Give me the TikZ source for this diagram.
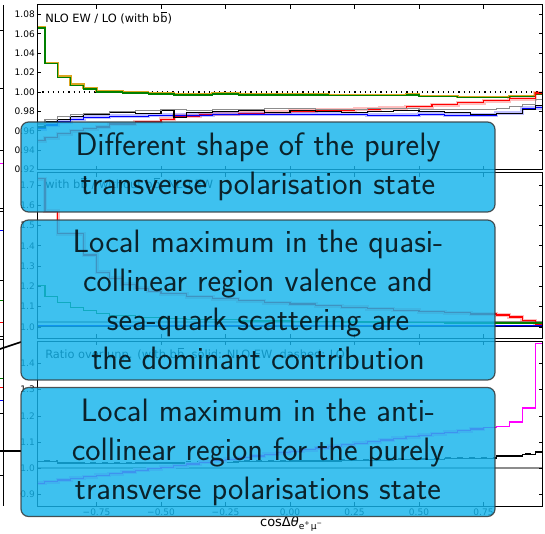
\documentclass[tikz,border=0pt]{standalone}
\usepackage{fontspec}
\newfontfamily\plotfont{DejaVu Sans}
\definecolor{boxblue}{RGB}{20,180,236}
\definecolor{ewgreen}{RGB}{0,128,0}
\definecolor{ewgold}{RGB}{218,165,32}
\definecolor{ewgray}{RGB}{140,140,140}
\definecolor{ewmagenta}{RGB}{255,0,255}
\newcommand{\bbar}{b\kern0.03em\rlap{\kern0.05em\raisebox{0.84em}{\rule{0.52em}{0.07em}}}b}

\tikzset{
  note/.style={draw=black!80, line width=0.6pt, fill=boxblue, opacity=0.82,
    rounded corners=3.75pt, minimum width=237pt, inner sep=0pt, align=center,
    font=\sffamily\fontsize{16.2}{19.5}\selectfont},
  hist/.style={const plot, line width=0.6pt},
  ticklabel/.style={font=\plotfont\fontsize{4.5}{5}\selectfont, inner sep=1pt},
  plotlabel/.style={font=\plotfont\fontsize{5.7}{7}\selectfont, inner sep=0pt},
}

\begin{document}
\begin{tikzpicture}[x=0.5pt,y=-0.5pt]
  \useasboundingbox[fill=white] (0,0) rectangle (545,534);

  % neighbour plot, only its right edge is in view
  \draw[line width=0.5pt] (3,5) -- (3,506);
  \foreach \y in {30,88,150,208,211,280,336,339,413,475}
    \draw[line width=0.4pt] (0,\y) -- (3,\y);
  \draw[ewmagenta] (0,163) -- (3,163);
  \draw[blue] (0,230) -- (3,230) (0,400) -- (3,400);
  \draw[ewgreen] (0,300) -- (3,300) (0,378) -- (3,378);
  \draw[red] (0,322) -- (3,322) (0,387) -- (3,387);
  \draw[line width=0.8pt] (0,349) -- (21,342);
  \draw[line width=0.8pt] (0,451) -- (21,451);

  % upper panel: NLO EW / LO
  \begin{scope}[shift={(290,1062)},x=129pt,y=485pt]
    \begin{scope}
      \clip (-0.98,0.92) rectangle (0.98,1.09);
      \draw[dotted, line width=0.6pt] (-0.98,1) -- (0.98,1);
      \foreach \c/\w/\s in {ewgold/1.3pt/0.5pt, ewgreen/0.6pt/0pt}
        \draw[const plot, \c, line width=\w, yshift=\s] plot coordinates {
          (-1,1.066) (-0.95,1.029) (-0.9,1.015) (-0.85,1.007) (-0.8,1.003)
          (-0.75,1.000) (-0.65,0.999) (-0.55,0.998) (-0.45,0.997) (-0.3,0.998)
          (-0.2,0.997) (0,0.997) (0.15,0.996) (0.35,0.996) (0.45,0.997)
          (0.5,0.995) (0.65,0.994) (0.85,0.995) (0.95,0.998) (1,0.998)};
      \foreach \w/\o in {2pt/0.25, 0.6pt/1}
        \draw[const plot, red, line width=\w, opacity=\o] plot coordinates {
          (-1,0.950) (-0.95,0.953) (-0.9,0.957) (-0.85,0.960) (-0.8,0.962)
          (-0.75,0.964) (-0.7,0.967) (-0.6,0.969) (-0.5,0.972) (-0.45,0.975)
          (-0.35,0.977) (-0.2,0.978) (-0.1,0.979) (0,0.980) (0.1,0.981)
          (0.25,0.982) (0.35,0.983) (0.45,0.985) (0.55,0.987) (0.65,0.989)
          (0.75,0.991) (0.85,0.993) (0.95,0.999) (1,0.999)};
      \foreach \w/\o in {2pt/0.25, 0.6pt/1}
        \draw[const plot, blue, line width=\w, opacity=\o] plot coordinates {
          (-1,0.962) (-0.95,0.966) (-0.9,0.969) (-0.85,0.972) (-0.8,0.974)
          (-0.7,0.975) (-0.55,0.976) (-0.3,0.977) (0.1,0.977) (0.3,0.976)
          (0.5,0.977) (0.6,0.976) (0.8,0.978) (0.9,0.983) (0.95,0.984)
          (1,0.984)};
      \draw[hist, black] plot coordinates {
        (-1,0.964) (-0.95,0.969) (-0.9,0.972) (-0.85,0.975) (-0.8,0.977)
        (-0.7,0.979) (-0.6,0.978) (-0.5,0.981) (-0.45,0.974) (-0.4,0.979)
        (-0.3,0.980) (-0.2,0.981) (-0.1,0.979) (0,0.981) (0.1,0.980)
        (0.2,0.979) (0.3,0.980) (0.4,0.981) (0.5,0.980) (0.6,0.979)
        (0.7,0.977) (0.8,0.978) (0.9,0.982) (0.95,0.986) (1,0.986)};
      \draw[hist, ewgray] plot coordinates {
        (-1,0.967) (-0.95,0.972) (-0.9,0.975) (-0.85,0.977) (-0.8,0.978)
        (-0.7,0.980) (-0.6,0.981) (-0.5,0.982) (-0.4,0.981) (-0.3,0.982)
        (-0.1,0.983) (0.1,0.982) (0.3,0.983) (0.5,0.982) (0.8,0.983)
        (0.85,0.985) (0.9,0.987) (0.95,0.992) (1,0.992)};
    \end{scope}
    \draw[line width=0.5pt] (-0.98,0.92) rectangle (0.98,1.09);
    \foreach \t in {-0.75,-0.5,...,0.75}
      \draw[line width=0.4pt] (\t,0.92) -- ++(0pt,2pt) (\t,1.09) -- ++(0pt,-2pt);
    \foreach \r [count=\i] in {0.92,0.94,0.96,0.98,1.00,1.02,1.04,1.06,1.08} {
      \draw[line width=0.4pt] (-0.98,\r) -- ++(2pt,0pt) (0.98,\r) -- ++(-2pt,0pt);
      \node[ticklabel, anchor=east] (upper-\i) at (-0.98,\r) {\r};
    }
    \node[plotlabel, anchor=north west] (ewlabel) at (-0.95,1.083) {NLO EW / LO (with \bbar)};
  \end{scope}

  % middle panel
  \begin{scope}[shift={(290,530)},x=129pt,y=101.5pt]
    \begin{scope}
      \clip (-0.98,0.945) rectangle (0.98,1.76);
      \draw[hist, ewgray] (-1,1.025) -- (1,1.025);
      \foreach \w/\o in {2pt/0.25, 0.6pt/1}
        \draw[const plot, red, line width=\w, opacity=\o] plot coordinates {
          (-1,1.73) (-0.95,1.57) (-0.9,1.46) (-0.8,1.355) (-0.75,1.27)
          (-0.7,1.24) (-0.65,1.21) (-0.6,1.19) (-0.55,1.175) (-0.5,1.165)
          (-0.4,1.15) (-0.3,1.14) (-0.2,1.13) (-0.1,1.12) (0,1.113)
          (0.1,1.105) (0.2,1.097) (0.3,1.09) (0.4,1.083) (0.5,1.076)
          (0.6,1.07) (0.7,1.064) (0.8,1.059) (0.85,1.049) (0.9,1.031)
          (0.95,1.015) (1,1.015)};
      \draw[hist, ewgreen] plot coordinates {
        (-1,1.205) (-0.95,1.15) (-0.9,1.12) (-0.85,1.095) (-0.8,1.08)
        (-0.75,1.065) (-0.7,1.055) (-0.6,1.045) (-0.5,1.04) (-0.4,1.035)
        (-0.2,1.03) (0,1.027) (0.2,1.025) (0.4,1.022) (0.6,1.02) (1,1.018)};
      \draw[const plot, blue, line width=1.2pt] (-1,1.004) -- (1,1.004);
      \draw[hist, black!70!blue] (-1,1.001) -- (1,1.001);
    \end{scope}
    \draw[line width=0.5pt] (-0.98,0.945) rectangle (0.98,1.76);
    \foreach \t in {-0.75,-0.5,...,0.75}
      \draw[line width=0.4pt] (\t,0.945) -- ++(0pt,2pt) (\t,1.76) -- ++(0pt,-2pt);
    \foreach \r [count=\i] in {1.0,1.1,1.2,1.3,1.4,1.5,1.6,1.7} {
      \draw[line width=0.4pt] (-0.98,\r) -- ++(2pt,0pt) (0.98,\r) -- ++(-2pt,0pt);
      \node[ticklabel, anchor=east] (middle-\i) at (-0.98,\r) {\r};
    }
    \node[plotlabel, anchor=north west] (bblabel) at (-0.95,1.735) {with \bbar{} / without \bbar, NLO EW};
  \end{scope}

  % lower panel: ratio over unpolarised
  \begin{scope}[shift={(290,730.3)},x=129pt,y=131pt]
    \begin{scope}
      \clip (-0.98,0.855) rectangle (0.98,1.485);
      \draw[ewgray, line width=0.9pt] (-1,1) -- (1,1);
      \draw[hist, black, dashed] plot coordinates {
        (-1,1.028) (-0.9,1.023) (-0.8,1.021) (-0.6,1.023) (-0.4,1.025)
        (-0.2,1.028) (0,1.031) (0.2,1.033) (0.4,1.036) (0.6,1.041)
        (0.8,1.05) (0.9,1.055) (0.95,1.065) (1,1.065)};
      \draw[hist, black] plot coordinates {
        (-1,1.025) (-0.9,1.02) (-0.8,1.018) (-0.6,1.02) (-0.4,1.022)
        (-0.2,1.025) (0,1.028) (0.2,1.03) (0.4,1.033) (0.6,1.038)
        (0.8,1.047) (0.9,1.052) (0.95,1.062) (1,1.062)};
      \draw[const plot, ewmagenta!30, line width=2pt] plot[domain=-1:0.75, samples=36] (\x,{1.062+0.122*(\x+0.025)});
      \draw[hist, ewmagenta] plot[domain=-1:0.75, samples=36] (\x,{1.062+0.122*(\x+0.025)});
      \draw[hist, ewmagenta] plot coordinates {
        (0.75,1.157) (0.8,1.159) (0.85,1.177) (0.9,1.23) (0.95,1.475) (1,1.475)};
    \end{scope}
    \draw[line width=0.5pt] (-0.98,0.855) rectangle (0.98,1.485);
    \foreach \t in {-0.75,-0.5,...,0.75}
      \draw[line width=0.4pt] (\t,0.855) -- ++(0pt,2pt) (\t,1.485) -- ++(0pt,-2pt);
    \foreach \r [count=\i] in {0.9,1.0,1.1,1.2,1.3,1.4} {
      \draw[line width=0.4pt] (-0.98,\r) -- ++(2pt,0pt) (0.98,\r) -- ++(-2pt,0pt);
      \node[ticklabel, anchor=east] (lower-\i) at (-0.98,\r) {\r};
    }
    \foreach \t/\lab [count=\i] in {-0.75/−0.75,-0.5/−0.50,-0.25/−0.25,0/0.00,0.25/0.25,0.5/0.50,0.75/0.75}
      \node[ticklabel, anchor=north] (xtick-\i) at (\t,0.855) {\lab};
    \node[plotlabel, anchor=north west] (unplabel) at (-0.95,1.459) {Ratio over unp. (with \bbar, solid: NLO EW, dashed: LO)};
  \end{scope}

  \node[font=\plotfont\fontsize{6.5}{8}\selectfont] (xlabel) at (292,524)
    {cosΔ\textit{θ}\textsubscript{e\textsuperscript{+}μ\textsuperscript{−}}};

  % Notes
  \node[note, minimum height=45pt] (shape) at (258,167)
    {Different shape of the purely\\transverse polarisation state};
  \node[note, minimum height=80pt] (quasi) at (258,300)
    {Local maximum in the quasi-\\collinear region valence and\\sea-quark scattering are\\the dominant contribution};
  \node[note, minimum height=64.5pt] (anti) at (258,452)
    {Local maximum in the anti-\\collinear region for the purely\\transverse polarisations state};
\end{tikzpicture}
\end{document}
